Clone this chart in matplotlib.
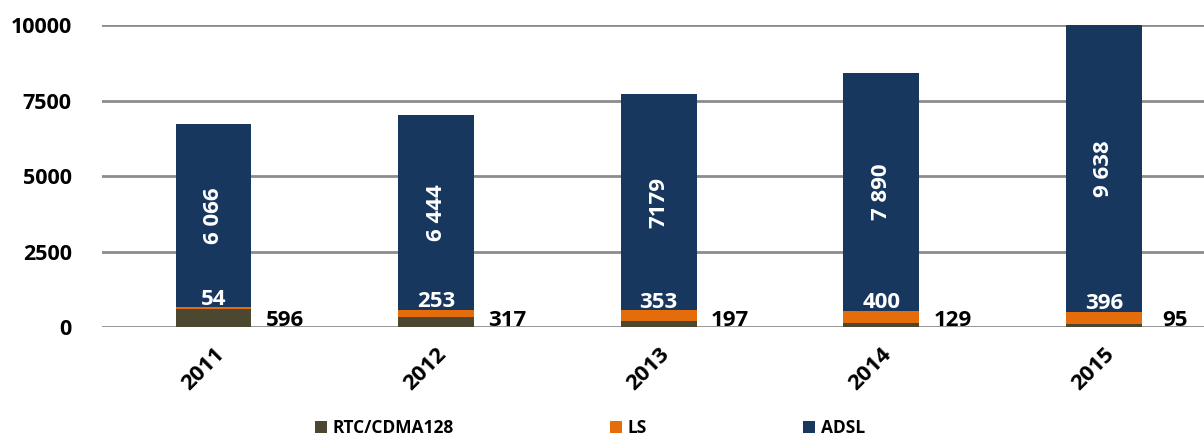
import matplotlib.pyplot as plt
import numpy as np

years = ["2011", "2012", "2013", "2014", "2015"]
rtc = [596, 317, 197, 129, 95]
ls = [54, 253, 353, 400, 396]
adsl = [6066, 6444, 7179, 7890, 9638]
adsl_labels = ["6 066", "6 444", "7179", "7 890", "9 638"]

plt.rcParams["font.family"] = ["Open Sans", "DejaVu Sans"]
plt.rcParams["font.weight"] = "bold"

c_rtc = "#4b4730"
c_ls = "#e46c0a"
c_adsl = "#17375e"

fig = plt.figure(figsize=(12.04, 4.48), dpi=100)
ax = fig.add_axes([0.085, 0.27, 0.915, 0.674])

x = np.arange(len(years))
w = 0.34
rtc_a = np.array(rtc)
ls_a = np.array(ls)
adsl_a = np.array(adsl)

ax.bar(x, rtc_a, w, color=c_rtc, label="RTC/CDMA128", zorder=3)
ax.bar(x, ls_a, w, bottom=rtc_a, color=c_ls, label="LS", zorder=3)
ax.bar(x, adsl_a, w, bottom=rtc_a + ls_a, color=c_adsl, label="ADSL", zorder=3)

ax.set_ylim(0, 10000)
ax.set_xlim(-0.5, 4.45)
ax.set_yticks([0, 2500, 5000, 7500, 10000])
ax.grid(axis="y", color="#8c8c8c", linewidth=2, zorder=0)
ax.set_axisbelow(True)
for s in ax.spines.values():
    s.set_visible(False)
ax.tick_params(axis="both", length=0, labelsize=15.5)
ax.tick_params(axis="y", pad=22)
ax.set_xticks(x)
ax.set_xticklabels(years, rotation=45, ha="right", rotation_mode="anchor", fontsize=16)
ax.tick_params(axis="x", pad=12)

for i in range(len(years)):
    # RTC values to the right of the bar
    ax.annotate(str(rtc[i]), (x[i] + 0.32, 0), xytext=(0, 5), textcoords="offset points",
                ha="center", va="center", fontsize=16, color="black", zorder=4)
    # LS values at top of LS segment
    ax.annotate(str(ls[i]), (x[i], rtc[i] + ls[i]), xytext=(0, 6), textcoords="offset points",
                ha="center", va="center", fontsize=16, color="white", zorder=4)
    # ADSL values rotated in the middle of visible segment
    lo = rtc[i] + ls[i]
    hi = min(lo + adsl[i], 10000)
    ax.text(x[i], (lo + hi) / 2, adsl_labels[i], rotation=90, ha="center", va="center",
            fontsize=16, color="white", zorder=4)

fig.legend(loc="lower center", bbox_to_anchor=(0.49, -0.01), ncol=3, frameon=False,
           fontsize=12.5, handlelength=0.7, handleheight=0.7, handletextpad=0.3,
           columnspacing=9)

fig.savefig("out.png", dpi=100)
